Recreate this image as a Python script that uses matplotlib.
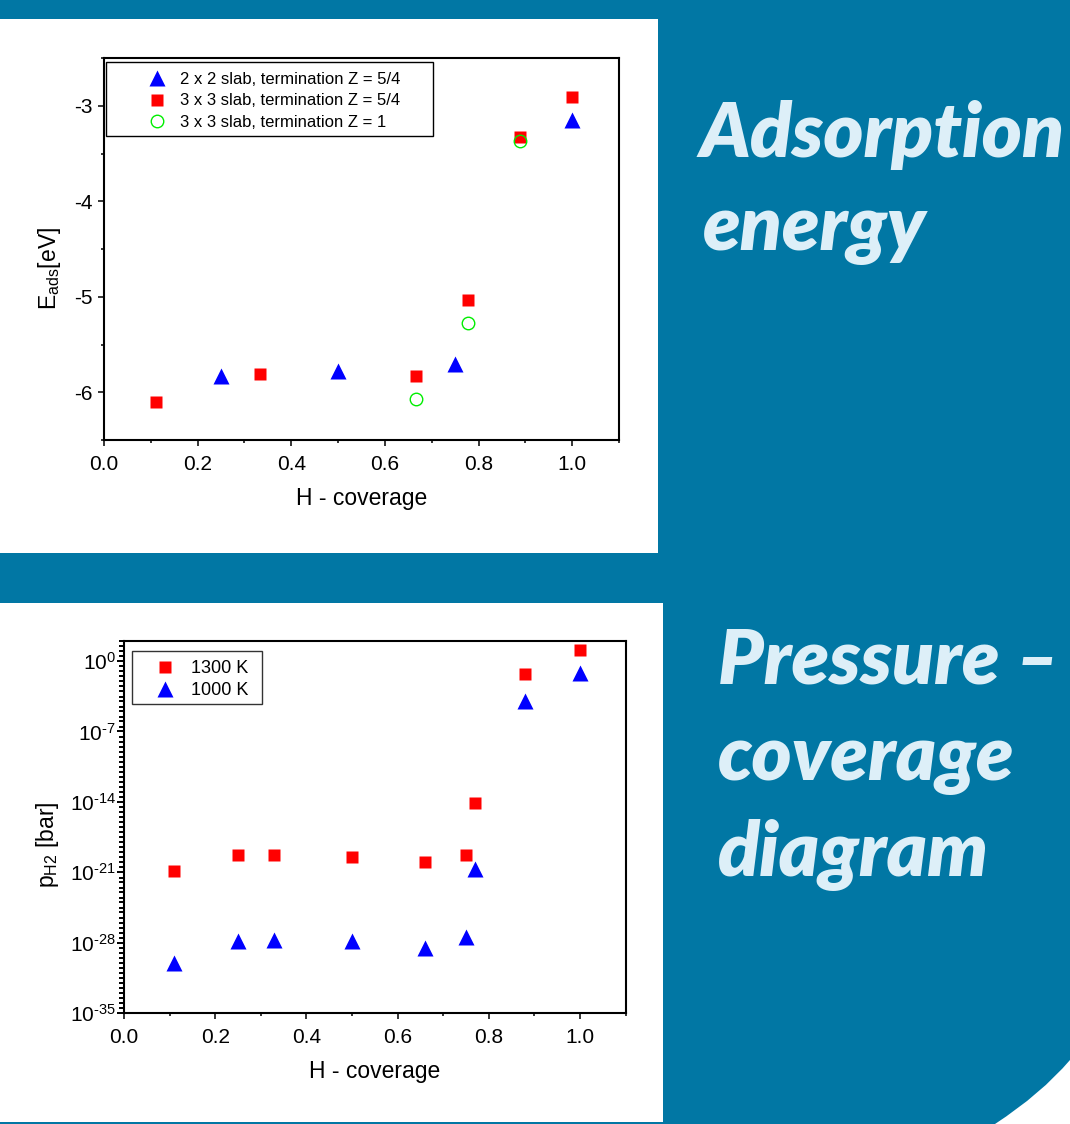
import numpy as np
import matplotlib
matplotlib.use('Agg')
import matplotlib.pyplot as plt
from matplotlib.patches import Rectangle, PathPatch
from matplotlib.path import Path
from matplotlib.ticker import MultipleLocator, LogLocator, FuncFormatter, NullFormatter

plt.rcParams['font.family'] = ['Liberation Sans', 'DejaVu Sans']
plt.rcParams['mathtext.fontset'] = 'custom'
plt.rcParams['mathtext.rm'] = 'Liberation Sans'
plt.rcParams['mathtext.it'] = 'Liberation Sans:italic'
plt.rcParams['axes.unicode_minus'] = False

# adsorption energy vs H coverage
cov_2x2 = [0.25, 0.5, 0.75, 1.0]
e_2x2 = [-5.83, -5.78, -5.70, -3.15]
cov_3x3 = [0.111, 0.333, 0.667, 0.778, 0.889, 1.0]
e_3x3 = [-6.10, -5.81, -5.83, -5.03, -3.33, -2.91]
cov_z1 = [0.667, 0.778, 0.889]
e_z1 = [-6.07, -5.27, -3.37]
labels_top = ['2 x 2 slab, termination Z = 5/4',
              '3 x 3 slab, termination Z = 5/4',
              '3 x 3 slab, termination Z = 1']

# pressure vs H coverage (log10 of p in bar)
cov_p = [0.11, 0.25, 0.33, 0.50, 0.66, 0.75, 0.77, 0.88, 1.0]
logp_1300 = [-20.9, -19.3, -19.3, -19.45, -20.0, -19.3, -14.1, -1.3, 1.1]
logp_1000 = [-30.05, -27.8, -27.7, -27.85, -28.5, -27.45, -20.7, -4.0, -1.15]
labels_bottom = ['1300 K', '1000 K']

teal = '#0177a4'
light = '#ddeff8'
W, H = 1070, 1124


def px_rect(x0, y0, x1, y1):
    return [x0 / W, 1 - y1 / H, (x1 - x0) / W, (y1 - y0) / H]


fig = plt.figure(figsize=(W / 100, H / 100), dpi=100)
fig.patch.set_facecolor(teal)

# white panels behind the plots
for r in [px_rect(0, 19, 658, 553), px_rect(0, 603, 663, 1122)]:
    fig.add_artist(Rectangle((r[0], r[1]), r[2], r[3], transform=fig.transFigure,
                             facecolor='white', edgecolor='none', zorder=-10))
# white cut-out in the bottom right corner
corner = Path([(1.0, 1 - 1060 / H), (1041 / W, 1 - 1094 / H), (995 / W, 0.0),
               (1.0, 0.0), (1.0, 1 - 1060 / H)],
              [Path.MOVETO, Path.CURVE3, Path.CURVE3, Path.LINETO, Path.CLOSEPOLY])
fig.add_artist(PathPatch(corner, transform=fig.transFigure, facecolor='white',
                         edgecolor='none', zorder=-10))


def style_axes(ax):
    for s in ax.spines.values():
        s.set_linewidth(1.5)
    ax.tick_params(which='both', direction='out', top=False, right=False,
                   labelsize=15, width=1.1)
    ax.tick_params(which='major', length=4.5)
    ax.tick_params(which='minor', length=2.5)


def pow10(v, _):
    n = int(round(np.log10(v)))
    if n < 0:
        return r'$\mathdefault{10^{\text{-}%d}}$' % -n
    return r'$\mathdefault{10^{%d}}$' % n


# ---- top plot ----
ax1 = fig.add_axes(px_rect(104, 58, 619, 440))
ax1.plot(cov_2x2, e_2x2, ls='none', marker='^', ms=11, color='#0000ff', mec='none',
         label=labels_top[0])
ax1.plot(cov_3x3, e_3x3, ls='none', marker='s', ms=8, color='#ff0000', mec='none',
         label=labels_top[1])
ax1.plot(cov_z1, e_z1, ls='none', marker='o', ms=9, mfc='none', mec='#00ee00', mew=1.0,
         label=labels_top[2])
ax1.set_xlim(0, 1.1)
ax1.set_ylim(-6.5, -2.5)
ax1.xaxis.set_major_locator(MultipleLocator(0.2))
ax1.xaxis.set_minor_locator(MultipleLocator(0.1))
ax1.yaxis.set_major_locator(MultipleLocator(1))
ax1.yaxis.set_minor_locator(MultipleLocator(0.5))
ax1.xaxis.set_major_formatter(FuncFormatter(lambda v, _: '%.1f' % v))
ax1.yaxis.set_major_formatter(FuncFormatter(lambda v, _: '%d' % round(v)))
style_axes(ax1)
ax1.tick_params(axis='x', pad=6)
ax1.tick_params(axis='y', pad=4)
ax1.set_xlabel('H - coverage', fontsize=16.5, labelpad=10)
ax1.set_ylabel(r'E$_{\mathrm{ads}}$[eV]', fontsize=16.5)
ax1.yaxis.set_label_coords(-0.08, 0.45)
ax1.add_patch(Rectangle((0.004, 0.796), 0.635, 0.194, transform=ax1.transAxes,
                        facecolor='white', edgecolor='black', lw=1.0, zorder=4))
leg1 = ax1.legend(loc='upper left', bbox_to_anchor=(0.0705, 0.963), frameon=False,
                  fontsize=12, numpoints=1, handlelength=2.0, handletextpad=0.4,
                  borderpad=0, borderaxespad=0, labelspacing=0.38)
leg1.set_zorder(5)

# ---- bottom plot ----
ax2 = fig.add_axes(px_rect(124, 641, 625.6, 1013))
ax2.plot(cov_p, 10.0 ** np.array(logp_1300), ls='none', marker='s', ms=8,
         color='#ff0000', mec='none', label=labels_bottom[0])
ax2.plot(cov_p, 10.0 ** np.array(logp_1000), ls='none', marker='^', ms=11,
         color='#0000ff', mec='none', label=labels_bottom[1])
ax2.set_yscale('log')
ax2.set_xlim(0, 1.1)
ax2.set_ylim(1e-35, 1e2)
ax2.xaxis.set_major_locator(MultipleLocator(0.2))
ax2.xaxis.set_minor_locator(MultipleLocator(0.1))
ax2.xaxis.set_major_formatter(FuncFormatter(lambda v, _: '%.1f' % v))
ax2.yaxis.set_major_locator(LogLocator(base=1e7, numticks=20))
ax2.yaxis.set_minor_locator(LogLocator(base=10, subs=(1.0, 3.0), numticks=100))
ax2.yaxis.set_major_formatter(FuncFormatter(pow10))
ax2.yaxis.set_minor_formatter(NullFormatter())
style_axes(ax2)
ax2.tick_params(axis='y', which='minor', length=3.5, width=1.4)
ax2.tick_params(axis='y', which='major', length=5, width=1.4)
ax2.tick_params(axis='x', pad=6)
ax2.tick_params(axis='y', pad=1)
ax2.set_xlabel('H - coverage', fontsize=16.5, labelpad=10)
ax2.set_ylabel(r'p$_{\mathrm{H2}}$ [bar]', fontsize=16.5)
ax2.yaxis.set_label_coords(-0.125, 0.452)
ax2.add_patch(Rectangle((0.016, 0.831), 0.259, 0.142, transform=ax2.transAxes,
                        facecolor='white', edgecolor='#333333', lw=1.0, zorder=4))
leg2 = ax2.legend(loc='upper left', bbox_to_anchor=(0.046, 0.949), frameon=False,
                  fontsize=13, numpoints=1, handlelength=2.0, handletextpad=0.45,
                  borderpad=0, borderaxespad=0, labelspacing=0.3)
leg2.set_zorder(5)

# ---- side titles ----
title_kw = dict(color=light, fontsize=55, fontweight='heavy', fontstyle='italic',
                family=['Lato', 'DejaVu Sans'], va='baseline', ha='left')
fig.text(700 / W, 1 - 157 / H, 'Adsorption', **title_kw)
fig.text(703 / W, 1 - 250 / H, 'energy', **title_kw)
fig.text(718 / W, 1 - 684 / H, 'Pressure \u2013', **title_kw)
fig.text(718 / W, 1 - 780 / H, 'coverage', **title_kw)
fig.text(718 / W, 1 - 876 / H, 'diagram', **title_kw)

fig.savefig('out.png', dpi=100, facecolor=fig.get_facecolor())
